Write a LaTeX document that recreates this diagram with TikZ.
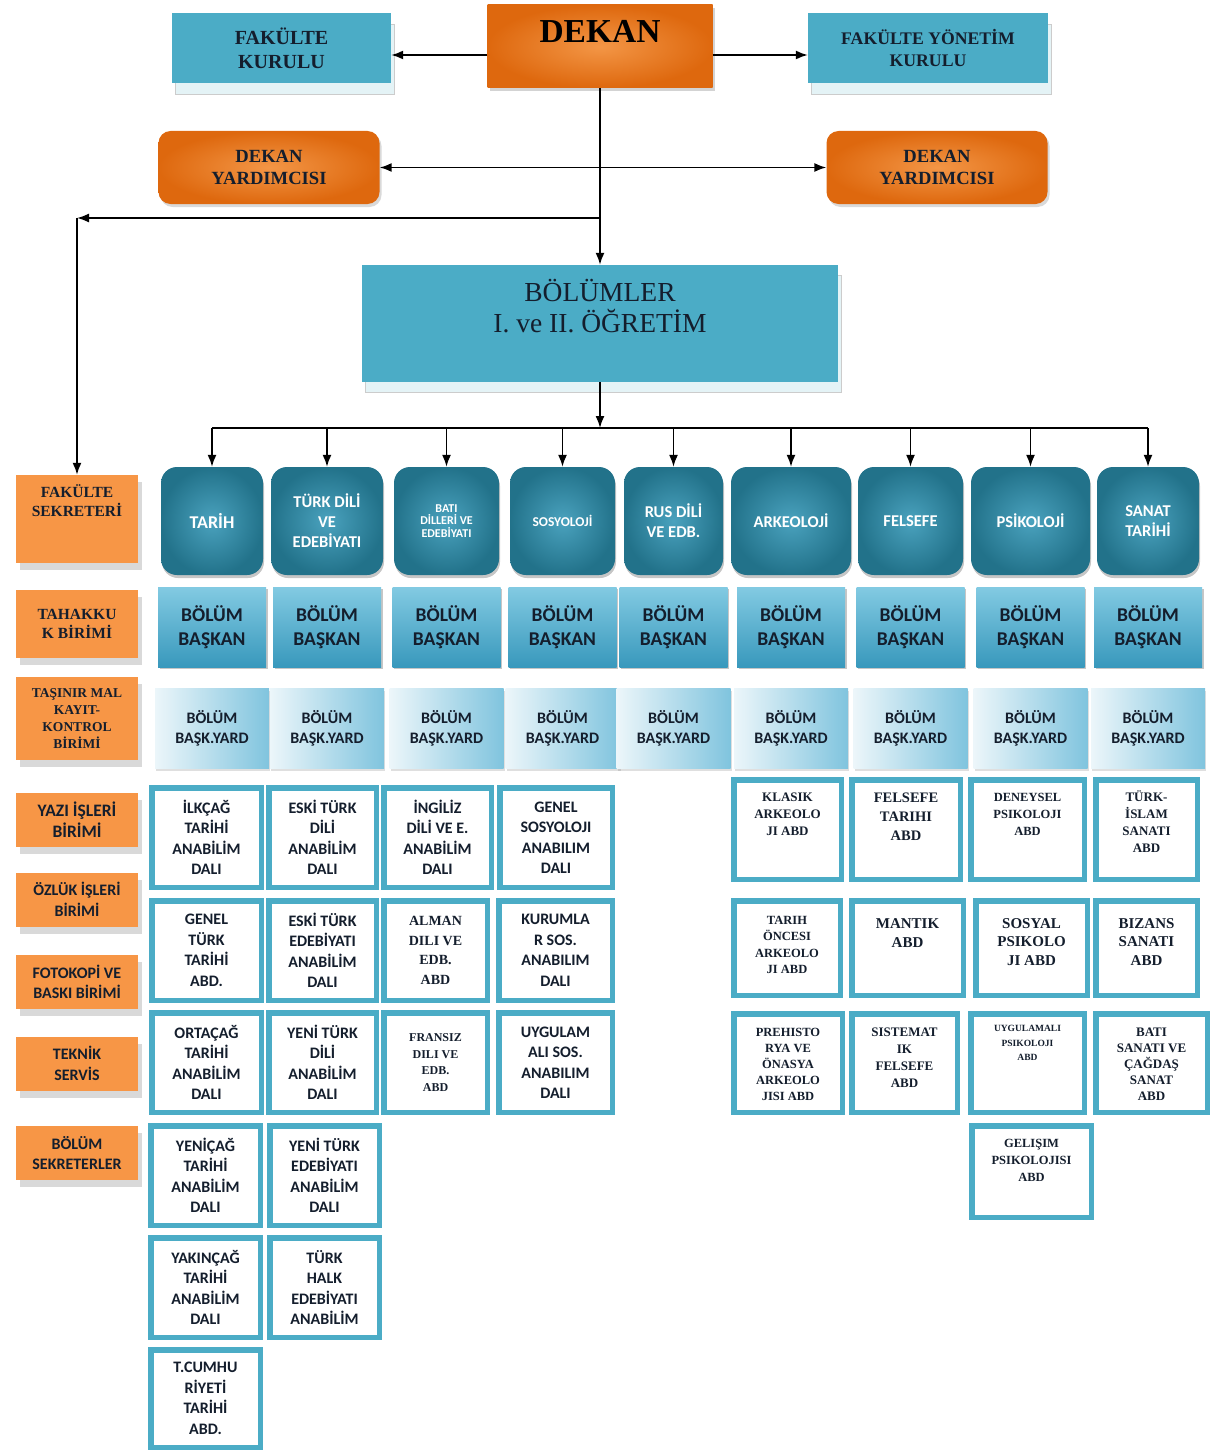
\documentclass[tikz,border=0pt]{standalone}
\usepackage{fontspec}
\setmainfont{Liberation Serif}
\newfontfamily\calibri{Carlito}
\usepackage{tikz}
\usetikzlibrary{arrows.meta,positioning,shadows}

\definecolor{aquaC}{RGB}{75,172,198}
\definecolor{dekanIn}{RGB}{243,150,70}
\definecolor{dekanOut}{RGB}{222,104,14}
\definecolor{birimC}{RGB}{247,150,70}
\definecolor{deptIn}{RGB}{74,162,190}
\definecolor{deptOut}{RGB}{34,114,138}
\definecolor{baskTop}{RGB}{130,202,226}
\definecolor{baskBot}{RGB}{56,152,188}
\definecolor{yardL}{RGB}{236,246,250}
\definecolor{yardR}{RGB}{128,196,222}
\definecolor{txtC}{RGB}{20,30,45}

\newcommand{\abdser}[2]{\bfseries\fontsize{#1}{#2}\selectfont}

\tikzset{%
	topbox/.style   = {fill=aquaC, text=txtC, align=center, font=\fontsize{20}{24}\selectfont\bfseries,
	                   drop shadow={shadow xshift=3pt, shadow yshift=-11pt, fill=aquaC!15, draw=black!20, opacity=1}}, % Kurul
	dekanbox/.style = {inner color=dekanIn, outer color=dekanOut, minimum width=225pt, minimum height=83pt,
	                   inner sep=0pt, text height=38pt, text depth=45pt, font=\fontsize{33.5}{36}\selectfont\bfseries,
	                   drop shadow={shadow xshift=2pt, shadow yshift=-3pt, opacity=.35}},
	dyard/.style    = {rounded corners=12pt, inner color=dekanIn, outer color=dekanOut, minimum width=221pt,
	                   minimum height=73pt, align=center, text=txtC, font=\fontsize{18.6}{22}\selectfont\bfseries,
	                   drop shadow={shadow xshift=2pt, shadow yshift=-3pt, opacity=.3}},
	bolbox/.style   = {fill=aquaC, minimum width=476pt, minimum height=117pt,
	                   drop shadow={shadow xshift=3pt, shadow yshift=-10pt, fill=aquaC!15, draw=black!20, opacity=1}},
	boltxt/.style   = {anchor=north, yshift=-14pt, inner sep=0pt, align=center, text=txtC, font=\fontsize{27.5}{31}\selectfont},
	birim/.style    = {fill=birimC, minimum width=122pt, align=center, text=txtC, font=\fontsize{15.5}{19}\selectfont\bfseries,
	                   drop shadow={shadow xshift=4pt, shadow yshift=-7pt, fill=black!15, opacity=1}}, % Birimler
	birimtxt/.style = {anchor=north, yshift=-10pt, inner sep=0pt, align=center, text=txtC, font=\fontsize{15.5}{19}\selectfont\bfseries},
	birimsans/.style= {minimum height=54pt, font=\calibri\bfseries\fontsize{16}{20.5}\selectfont},
	dept/.style     = {rounded corners=16pt, inner color=deptIn, outer color=deptOut, minimum height=108pt, align=center,
	                   text=white, font=\calibri\bfseries\fontsize{16.5}{20}\selectfont,
	                   drop shadow={shadow xshift=1pt, shadow yshift=-3pt, opacity=.45}}, % Bolumler
	baskan/.style   = {top color=baskTop, bottom color=baskBot, minimum width=108pt, minimum height=80pt, align=center,
	                   text=txtC, font=\calibri\bfseries\fontsize{19.5}{24}\selectfont,
	                   drop shadow={shadow xshift=1.5pt, shadow yshift=-2pt, opacity=.45}},
	baskyard/.style = {left color=yardL, right color=yardR, minimum width=114pt, minimum height=80pt, align=center,
	                   text=txtC, font=\calibri\bfseries\fontsize{16}{20}\selectfont,
	                   drop shadow={shadow xshift=1pt, shadow yshift=-2pt, opacity=.25}},
	abd/.style      = {draw=aquaC, line width=5.5pt, fill=white, minimum width=107.5pt, minimum height=99.5pt,
	                   align=center, text=txtC, font=\calibri\bfseries\fontsize{16}{20.5}\selectfont}, % Anabilim dali
	abdtxt/.style   = {anchor=north, yshift=-16pt, inner sep=0pt, align=center, text=txtC, font=\abdser{13}{17}},
	line/.style     = {line width=1.6pt},
	arrow/.style    = {line width=1.6pt, -{Latex[length=12pt,width=9pt]}},
	dblarrow/.style = {line width=1.6pt, {Latex[length=12pt,width=9pt]}-{Latex[length=12pt,width=9pt]}},
}

\begin{document}
\begin{tikzpicture}[x=1pt, y=-1pt]
	\useasboundingbox (0,0) rectangle (1213,1450);

	% dekanlik
	\node[topbox, minimum width=219pt, minimum height=70pt] (fkurul) at (281.5,48) {FAKÜLTE\\KURULU};
	\node[dekanbox] (dekan) at (600,46.5) {DEKAN};
	\node[topbox, minimum width=240pt, minimum height=70pt, font=\fontsize{17.7}{22}\selectfont\bfseries] (fyk) at (928,48) {FAKÜLTE YÖNETİM\\KURULU};
	\node[dyard] (dyard1) at (269,167.5) {DEKAN\\YARDIMCISI};
	\node[dyard] (dyard2) at (937,167.5) {DEKAN\\YARDIMCISI};
	\node[bolbox, label={[boltxt]north:{BÖLÜMLER\\I. ve II. ÖĞRETİM}}] (bolumler) at (600,323.5) {};

	% birimler
	\node[birim, minimum height=88pt, label={[birimtxt]north:{FAKÜLTE\\SEKRETERİ}}] (sekreter) at (77,519) {};
	\node[birim, minimum height=68pt] (tahakkuk) at (77,624) {TAHAKKU\\K BİRİMİ};
	\node[birim, minimum height=83pt, font=\fontsize{13.5}{17}\selectfont\bfseries] (tasinir) at (77,718.5) {TAŞINIR MAL\\KAYIT-\\KONTROL\\BİRİMİ};
	\node[birim, birimsans, font=\calibri\bfseries\fontsize{17.5}{21}\selectfont] (yazi) at (77,820) {YAZI İŞLERİ\\BİRİMİ};
	\node[birim, birimsans] (ozluk) at (77,899.5) {ÖZLÜK İŞLERİ\\BİRİMİ};
	\node[birim, birimsans] (fotokopi) at (77,982) {FOTOKOPİ VE\\BASKI BİRİMİ};
	\node[birim, birimsans] (teknik) at (77,1063.5) {TEKNİK\\SERVİS};
	\node[birim, birimsans] (bsekreter) at (77,1153) {BÖLÜM\\SEKRETERLER};

	% bolumler
	\node[dept, minimum width=102pt, font=\calibri\bfseries\fontsize{18}{20}\selectfont] (tarih) at (212,521) {TARİH};
	\node[dept, minimum width=112pt] (tdili) at (327,521) {TÜRK DİLİ\\VE\\EDEBİYATI};
	\node[dept, minimum width=105pt, font=\calibri\bfseries\fontsize{12}{12.5}\selectfont] (bati) at (446.5,521) {BATI\\DİLLERİ VE\\EDEBİYATI};
	\node[dept, minimum width=105pt, font=\calibri\bfseries\fontsize{13.5}{14}\selectfont] (sosyo) at (562.5,521) {SOSYOLOJİ};
	\node[dept, minimum width=99pt] (rus) at (673.5,521) {RUS DİLİ\\VE EDB.};
	\node[dept, minimum width=120pt] (arkeo) at (791,521) {ARKEOLOJİ};
	\node[dept, minimum width=105pt] (felsefe) at (910.5,521) {FELSEFE};
	\node[dept, minimum width=119pt] (psiko) at (1030.5,521) {PSİKOLOJİ};
	\node[dept, minimum width=102pt] (sanat) at (1148,521) {SANAT\\TARİHİ};

	\draw[arrow] (dekan.west |- 0,55) -- (fkurul.east |- 0,55);
	\draw[arrow] (dekan.east |- 0,55) -- (fyk.west |- 0,55);
	\draw[arrow] (dekan) -- (bolumler);
	\draw[dblarrow] (dyard1) -- (dyard2);
	\coordinate (sekkose) at (77,218);
	\draw[arrow] (dekan |- sekkose) -- (sekkose);
	\draw[arrow] (sekkose) -- (sekreter);
	\coordinate (bus) at (600,428);
	\draw[arrow] (bolumler) -- (bus);
	\draw[line] (bus -| tarih) -- (bus -| sanat);

	\foreach \d in {tarih,tdili,bati,sosyo,rus,arkeo,felsefe,psiko,sanat}{
		\node[baskan, below=12pt of \d] (bb\d) {BÖLÜM\\BAŞKAN};
		\node[baskyard, below=21pt of bb\d] (by\d) {BÖLÜM\\BAŞK.YARD};
		\draw[arrow] (bus -| \d) -- (\d);
	}

	% anabilim dallari - sol
	\node[abd, minimum width=109.5pt] (ilkcag) at (206.5,837.5) {İLKÇAĞ\\TARİHİ\\ANABİLİM\\DALI};
	\node[abd] (eskidil) at (322.5,837.5) {ESKİ TÜRK\\DİLİ\\ANABİLİM\\DALI};
	\node[abd] (ingiliz) at (437.5,837.5) {İNGİLİZ\\DİLİ VE E.\\ANABİLİM\\DALI};
	\node[abd, minimum width=112.5pt] (gensos) at (556,837.5) {GENEL\\SOSYOLOJI\\ANABILIM\\DALI};
	\node[abd, minimum width=109.5pt] (gentur) at (206.5,950.5) {GENEL\\TÜRK\\TARİHİ\\ABD.};
	\node[abd] (eskiedb) at (322.5,950.5) {ESKİ TÜRK\\EDEBİYATI\\ANABİLİM\\DALI};
	\node[abd, minimum width=103.5pt, font=\abdser{14}{19.5}] (alman) at (435.5,950.5) {ALMAN\\DILI VE\\EDB.\\ABD};
	\node[abd, minimum width=113.5pt] (kurum) at (555.5,950.5) {KURUMLA\\R SOS.\\ANABILIM\\DALI};
	\node[abd, minimum width=109.5pt] (ortacag) at (206.5,1062.5) {ORTAÇAĞ\\TARİHİ\\ANABİLİM\\DALI};
	\node[abd] (yenidil) at (322.5,1062.5) {YENİ TÜRK\\DİLİ\\ANABİLİM\\DALI};
	\node[abd, minimum width=103.5pt, font=\abdser{12}{16.5}] (fransiz) at (435.5,1062.5) {FRANSIZ\\DILI VE\\EDB.\\ABD};
	\node[abd, minimum width=113.5pt] (uygsos) at (555.5,1062.5) {UYGULAM\\ALI SOS.\\ANABILIM\\DALI};
	\node[abd, minimum width=109.5pt] (yenicag) at (205.5,1175.5) {YENİÇAĞ\\TARİHİ\\ANABİLİM\\DALI};
	\node[abd, minimum width=109.5pt] (yeniedb) at (324.5,1175.5) {YENİ TÜRK\\EDEBİYATI\\ANABİLİM\\DALI};
	\node[abd, minimum width=109.5pt] (yakincag) at (205.5,1287.5) {YAKINÇAĞ\\TARİHİ\\ANABİLİM\\DALI};
	\node[abd, minimum width=109.5pt] (halk) at (324.5,1287.5) {TÜRK\\HALK\\EDEBİYATI\\ANABİLİM};
	\node[abd, minimum width=109.5pt, minimum height=97.5pt] (cumhur) at (205.5,1398.5) {T.CUMHU\\RİYETİ\\TARİHİ\\ABD.};

	% anabilim dallari - sag
	\node[abd, label={[abdtxt]north:{KLASIK\\ARKEOLO\\JI ABD}}] (klasik) at (787.5,829.5) {};
	\node[abd, minimum width=108.5pt, label={[abdtxt, font=\abdser{14.5}{19}]north:{FELSEFE\\TARIHI\\ABD}}] (feltar) at (906,829.5) {};
	\node[abd, minimum width=113.5pt, label={[abdtxt, font=\abdser{12.5}{17}]north:{DENEYSEL\\PSIKOLOJI\\ABD}}] (deneysel) at (1027.5,829.5) {};
	\node[abd, minimum width=101.5pt, label={[abdtxt, yshift=3pt]north:{TÜRK-\\İSLAM\\SANATI\\ABD}}] (turkislam) at (1146.5,829.5) {};
	\node[abd, minimum width=106.5pt, minimum height=94.5pt, label={[abdtxt, font=\abdser{12.5}{16.5}, yshift=-2pt]north:{TARIH\\ÖNCESI\\ARKEOLO\\JI ABD}}] (tarihonc) at (787,948) {};
	\node[abd, minimum width=111.5pt, minimum height=94.5pt, label={[abdtxt, font=\abdser{15}{19}, yshift=-4pt]north:{MANTIK\\ABD}}] (mantik) at (907.5,948) {};
	\node[abd, minimum width=111.5pt, minimum height=94.5pt, label={[abdtxt, font=\abdser{15}{18.5}, yshift=-4pt]north:{SOSYAL\\PSIKOLO\\JI ABD}}] (sosyalpsi) at (1031.5,948) {};
	\node[abd, minimum width=101.5pt, minimum height=94.5pt, label={[abdtxt, font=\abdser{15}{18.5}, yshift=-4pt]north:{BIZANS\\SANATI\\ABD}}] (bizans) at (1146.5,948) {};
	\node[abd, minimum width=108.5pt, minimum height=98.5pt, label={[abdtxt, font=\abdser{12.5}{16}, yshift=-1pt]north:{PREHISTO\\RYA VE\\ÖNASYA\\ARKEOLO\\JISI ABD}}] (prehisto) at (788,1063) {};
	\node[abd, minimum width=105.5pt, minimum height=98.5pt, label={[abdtxt, yshift=-1pt]north:{SISTEMAT\\IK\\FELSEFE\\ABD}}] (sistemat) at (904.5,1063) {};
	\node[abd, minimum width=113.5pt, minimum height=98.5pt, label={[abdtxt, font=\abdser{9.5}{14.5}, yshift=2pt]north:{UYGULAMALI\\PSIKOLOJI\\ABD}}] (uygpsi) at (1027.5,1063) {};
	\node[abd, minimum width=111.5pt, minimum height=98.5pt, label={[abdtxt, font=\abdser{13}{16}, yshift=-1pt]north:{BATI\\SANATI VE\\ÇAĞDAŞ\\SANAT\\ABD}}] (batisanat) at (1151.5,1063) {};
	\node[abd, minimum width=119.5pt, minimum height=91.5pt, label={[abdtxt, font=\abdser{12.5}{17}]north:{GELIŞIM\\PSIKOLOJISI\\ABD}}] (gelisim) at (1031.5,1171.5) {};
\end{tikzpicture}
\end{document}
